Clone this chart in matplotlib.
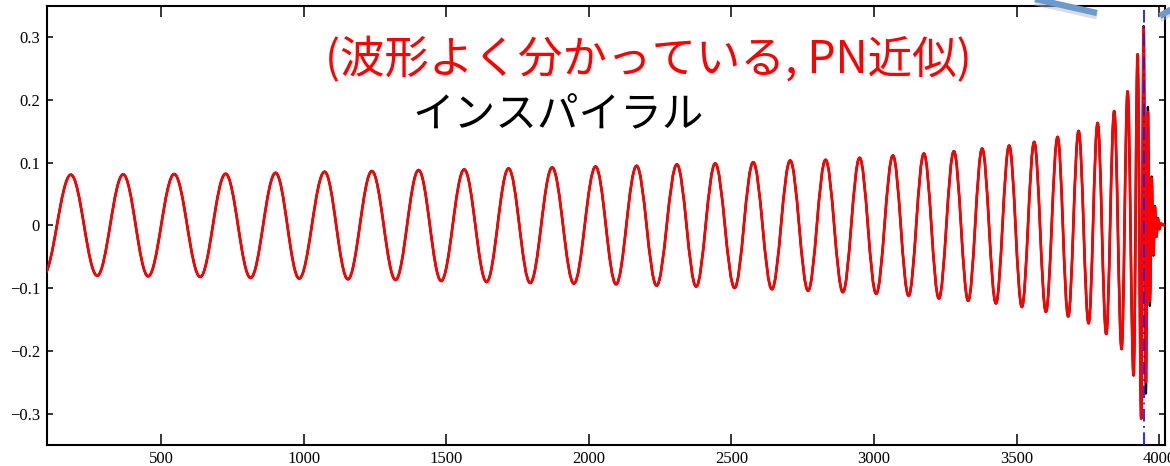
import numpy as np
import matplotlib.pyplot as plt
from matplotlib.path import Path
from matplotlib.patches import PathPatch
from matplotlib.lines import Line2D

# ---------- waveform extrema (time, strain) ----------
# successive peaks / troughs of h(t), ending with the ringdown
t_ext = [
    86.0, 183.7, 275.9, 367.1, 454.8, 545.9, 637.1, 726.2, 813.8, 901.5,
    984.2, 1073.3, 1155.0, 1239.1, 1322.2, 1402.9, 1482.1, 1562.8, 1641.3, 1718.4,
    1794.2, 1871.3, 1947.4, 2023.5, 2095.4, 2167.3, 2237.4, 2308.6, 2376.2, 2442.9,
    2510.9, 2576.1, 2641.7, 2705.8, 2768.6, 2829.9, 2890.6, 2949.2, 3007.4, 3066.0,
    3121.0, 3174.6, 3227.2, 3279.8, 3329.9, 3379.0, 3427.1, 3473.6, 3518.2, 3561.4,
    3602.4, 3643.4, 3680.6, 3717.1, 3752.1, 3783.7, 3813.9, 3841.9, 3867.8, 3888.9,
    3909.9, 3923.9, 3936.6, 3945.0, 3953.0, 3960.0, 3967.0, 3973.4, 3979.0, 3984.6,
    3989.8, 3995.1, 4000.0, 4005.0, 4020.0,
]

# numerical waveform (black)
h_nr = [
    -0.080, 0.081, -0.080, 0.0815, -0.081, 0.082, -0.082, 0.0825, -0.0836, 0.084,
    -0.0846, 0.0857, -0.0857, 0.0868, -0.0868, 0.0884, -0.0884, 0.0894, -0.090, 0.091,
    -0.0916, 0.0926, -0.0926, 0.094, -0.0937, 0.0952, -0.0958, 0.0974, -0.0974, 0.099,
    -0.0995, 0.101, -0.1016, 0.1037, -0.104, 0.1048, -0.1063, 0.108, -0.109, 0.1116,
    -0.112, 0.1148, -0.1164, 0.1185, -0.120, 0.1227, -0.1243, 0.1275, -0.130, 0.1333,
    -0.1376, 0.1413, -0.145, 0.1508, -0.156, 0.1635, -0.173, 0.1825, -0.197, 0.214,
    -0.239, 0.273, -0.308, 0.318, -0.268, 0.189, -0.128, 0.078, -0.048, 0.031,
    -0.018, 0.012, -0.006, 0.003, 0.0,
]

# PN / model waveform (red)
h_pn = [
    -0.080, 0.081, -0.080, 0.0815, -0.081, 0.082, -0.082, 0.0825, -0.0836, 0.084,
    -0.0846, 0.0857, -0.0857, 0.0868, -0.0868, 0.0884, -0.0884, 0.0894, -0.090, 0.091,
    -0.0916, 0.0926, -0.0926, 0.094, -0.0937, 0.0952, -0.0958, 0.0974, -0.0974, 0.099,
    -0.0995, 0.101, -0.1016, 0.1037, -0.104, 0.1048, -0.1063, 0.108, -0.109, 0.1116,
    -0.112, 0.1148, -0.1164, 0.1185, -0.120, 0.1227, -0.1243, 0.1275, -0.130, 0.1333,
    -0.1376, 0.1413, -0.145, 0.1508, -0.156, 0.1635, -0.173, 0.1825, -0.197, 0.214,
    -0.239, 0.273, -0.308, 0.316, -0.250, 0.181, -0.120, 0.076, -0.046, 0.030,
    -0.018, 0.011, -0.006, 0.003, 0.0,
]

t_merger = 3946.0

x_ticks = [500, 1000, 1500, 2000, 2500, 3000, 3500, 4000]
y_ticks = [-0.3, -0.2, -0.1, 0, 0.1, 0.2, 0.3]


def smooth_path(t, h, k=0.3634):
    # cubic Bezier between consecutive extrema, flat tangent at each extremum
    verts = [(t[0], h[0])]
    codes = [Path.MOVETO]
    for i in range(len(t) - 1):
        dt = t[i + 1] - t[i]
        verts += [(t[i] + k * dt, h[i]), (t[i + 1] - k * dt, h[i + 1]), (t[i + 1], h[i + 1])]
        codes += [Path.CURVE4] * 3
    return Path(verts, codes)


plt.rcParams['font.family'] = ['Liberation Serif', 'DejaVu Serif']

W, H = 1170, 466
fig = plt.figure(figsize=(W / 100, H / 100), dpi=100)
ax = fig.add_axes([47 / W, (H - 445) / H, (1165 - 47) / W, (445 - 6) / H])

ax.add_patch(PathPatch(smooth_path(t_ext, h_nr), fill=False, edgecolor='black',
                       lw=1.7, joinstyle='round', zorder=2))
ax.add_patch(PathPatch(smooth_path(t_ext, h_pn), fill=False, edgecolor='#ff0000',
                       lw=1.9, joinstyle='round', zorder=3))
ax.axvline(t_merger, color='#1a1aff', lw=1.3, linestyle=(0, (7, 2.5, 1, 2.5)), zorder=4)

ax.set_xlim(100, 4020)
ax.set_ylim(-0.35, 0.35)
ax.set_xticks(x_ticks)
ax.set_yticks(y_ticks)
ax.set_yticklabels(['\u22120.3', '\u22120.2', '\u22120.1', '0', '0.1', '0.2', '0.3'])

for s in ax.spines.values():
    s.set_linewidth(1.5)
ax.tick_params(axis='both', direction='in', labelsize=12, width=1.1, top=True, right=True)
ax.tick_params(axis='y', length=4.5, pad=5)
ax.tick_params(axis='x', length=8, pad=4)

# slide captions
fig.text(648 / W, 1 - 60 / H, '(波形よく分かっている, PN近似)', color='#ff0000',
         fontsize=32, family=['Noto Sans CJK JP', 'DejaVu Sans'], ha='center', va='center')
fig.text(558 / W, 1 - 116 / H, 'インスパイラル', color='black',
         fontsize=30, family=['Noto Sans CJK JP', 'DejaVu Sans'], ha='center', va='center')

# pieces of callout arrows along the top edge
for (x0, y0, x1, y1) in [(1035, -1, 1097, 13), (1160, 16, 1175, 7)]:
    fig.add_artist(Line2D([x0 / W, x1 / W], [1 - (y0 + 3) / H, 1 - (y1 + 3) / H],
                          color='#bbbbbb', lw=5, alpha=0.5, solid_capstyle='butt'))
    fig.add_artist(Line2D([x0 / W, x1 / W], [1 - y0 / H, 1 - y1 / H],
                          color='#6a9ad0', lw=4.5, solid_capstyle='butt'))

fig.savefig('out.png', dpi=100)
